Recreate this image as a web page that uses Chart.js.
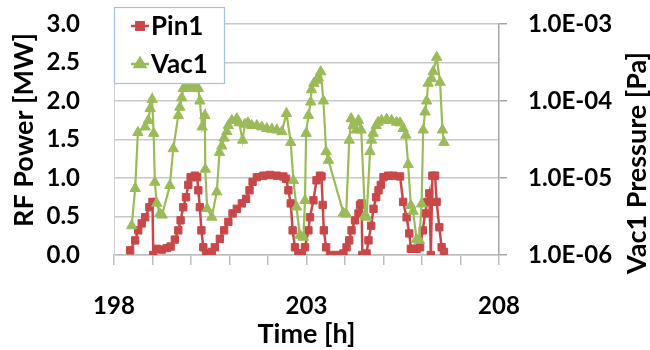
<!DOCTYPE html>
<html><head><meta charset="utf-8">
<script src="https://cdn.jsdelivr.net/npm/chart.js@4.4.0/dist/chart.umd.min.js"></script>
<style>html,body{margin:0;padding:0;background:#fff;}</style>
</head><body>
<canvas id="c" width="650" height="350"></canvas>
<script>
const pinTime = [198.42,198.55,198.63,198.72,198.81,198.92,199.0,199.02,199.11,199.24,
199.37,199.47,199.58,199.67,199.73,199.8,199.87,199.93,199.99,200.1,
200.16,200.19,200.23,200.27,200.32,200.39,200.45,200.54,200.62,200.75,
200.86,200.97,201.08,201.19,201.32,201.43,201.52,201.6,201.71,201.88,
202.05,202.23,202.4,202.47,202.53,202.59,202.64,202.7,202.79,202.88,
202.96,203.05,203.09,203.18,203.26,203.35,203.39,203.42,203.45,203.51,
203.61,203.78,203.96,204.04,204.11,204.17,204.26,204.35,204.39,204.43,
204.45,204.56,204.61,204.68,204.74,204.81,204.87,204.93,205.0,205.12,
205.26,205.43,205.51,205.6,205.67,205.71,205.77,205.86,205.95,206.02,
206.08,206.14,206.19,206.23,206.27,206.34,206.38,206.45,206.51,206.57];
const pinPower = [0.06,0.19,0.32,0.41,0.49,0.62,0.69,0.0,0.08,0.07,
0.09,0.11,0.2,0.32,0.45,0.62,0.75,0.91,1.01,1.03,
1.01,0.84,0.62,0.32,0.1,0.02,0.0,0.04,0.1,0.21,
0.32,0.43,0.54,0.6,0.67,0.73,0.84,0.95,1.01,1.03,
1.04,1.03,1.02,0.99,0.84,0.67,0.32,0.1,0.02,0.02,
0.1,0.32,0.49,0.71,0.97,1.03,1.02,0.65,0.32,0.1,
0.0,0.0,0.02,0.1,0.19,0.32,0.45,0.54,0.65,0.67,
0.0,0.02,0.19,0.38,0.6,0.75,0.84,0.91,1.01,1.03,
1.03,1.02,0.69,0.49,0.28,0.08,0.08,0.08,0.1,0.32,
0.54,0.69,0.8,0.0,1.03,1.03,0.69,0.36,0.1,0.04];
const vacTime = [198.46,198.55,198.62,198.81,198.89,198.94,198.99,199.03,199.06,199.11,
199.19,199.25,199.45,199.54,199.67,199.71,199.76,199.8,199.89,199.97,
200.06,200.15,200.19,200.23,200.29,200.36,200.37,200.42,200.54,200.67,
200.74,200.8,200.86,200.93,200.97,201.06,201.19,201.25,201.34,201.4,
201.48,201.58,201.71,201.84,201.97,202.1,202.23,202.36,202.48,202.59,
202.66,202.74,202.83,202.92,202.96,202.99,203.05,203.11,203.13,203.19,
203.26,203.31,203.37,203.44,203.51,203.57,203.96,204.03,204.11,204.16,
204.21,204.29,204.35,204.42,204.52,204.56,204.65,204.69,204.73,204.81,
204.86,204.95,205.08,205.21,205.34,205.43,205.51,205.58,205.64,205.71,
205.77,205.86,205.93,205.99,206.03,206.08,206.12,206.16,206.25,206.29,
206.38,206.47,206.53,206.57];
const vacPressure = [2.4e-6,7.3e-6,3.9e-5,4.6e-5,5.6e-5,8.0e-5,1.05e-4,3.8e-5,8.8e-6,4.7e-6,
3.45e-6,3.3e-6,8e-6,2.4e-5,6.5e-5,8.3e-5,1.1e-4,1.45e-4,1.55e-4,1.5e-4,
1.45e-4,1.55e-4,1.45e-4,1.0e-4,4.6e-5,6.5e-5,1.3e-5,4.0e-6,3.1e-6,6.6e-6,
2.15e-5,2.6e-5,3.3e-5,4.0e-5,4.8e-5,5.6e-5,5.9e-5,5.2e-5,3.1e-5,5.0e-5,
5.2e-5,4.8e-5,4.8e-5,4.6e-5,4.4e-5,4.3e-5,4.2e-5,4.0e-5,6.9e-5,2.9e-5,
9.3e-6,4.2e-6,1.8e-6,1.7e-6,5.1e-6,3.8e-5,6.5e-5,9.7e-5,1.4e-4,1.7e-4,
1.86e-4,2.0e-4,2.4e-4,1.0e-4,2.2e-5,1.7e-5,3.5e-6,3.4e-6,3.1e-5,5.9e-5,
4.8e-5,4.2e-5,5.6e-5,4.2e-5,3.3e-6,3.1e-6,2.2e-5,3.1e-5,3.8e-5,4.8e-5,
5.3e-5,5.6e-5,5.8e-5,5.6e-5,5.3e-5,5.2e-5,4.4e-5,3.6e-5,1.5e-5,4.4e-6,
3.7e-6,1.6e-6,1.55e-6,4.6e-6,4.2e-5,7.2e-5,1.0e-4,1.7e-4,1.95e-4,2.4e-4,
3.7e-4,1.75e-4,4.2e-5,2.9e-5];
const seriesNames = ['Pin1', 'Vac1'];
const xLabeledTicks = [198, 203, 208];
const rightTicks = [1e-6, 1e-5, 1e-4, 1e-3];
const leftTitle = 'RF Power [MW]';
const rightTitle = 'Vac1 Pressure [Pa]';
const xTitle = 'Time [h]';

const RED = '#C8484A', GREEN = '#9BBB59';
const FONT = 'Lato';

const legendPlugin = {
  id: 'boxLegend',
  afterDraw(chart) {
    const ctx = chart.ctx;
    ctx.save();
    ctx.fillStyle = '#fff';
    ctx.fillRect(114, 7, 110, 76);
    ctx.strokeStyle = '#a9bfe3';
    ctx.lineWidth = 1.2;
    ctx.strokeRect(114.5, 7.5, 110, 76);
    const ys = [26, 64];
    chart.data.datasets.forEach((ds, i) => {
      const y = ys[i];
      ctx.strokeStyle = ds.borderColor;
      ctx.lineWidth = 2.5;
      ctx.beginPath(); ctx.moveTo(131, y); ctx.lineTo(149, y); ctx.stroke();
      ctx.fillStyle = ds.backgroundColor;
      Chart.helpers.drawPoint(ctx, {pointStyle: ds.pointStyle, radius: ds.pointRadius, borderWidth: 1, rotation: 0}, 140, y);
      ctx.fill();
      ctx.fillStyle = '#000';
      ctx.font = 'bold 26px ' + FONT;
      ctx.textBaseline = 'middle';
      ctx.textAlign = 'left';
      ctx.fillText(ds.label, 151, y + 1);
    });
    ctx.restore();
  }
};

const titlePlugin = {
  id: 'sideTitles',
  afterDraw(chart) {
    const ctx = chart.ctx;
    ctx.save();
    ctx.fillStyle = '#000';
    ctx.font = 'bold 27px ' + FONT;
    ctx.textAlign = 'center';
    ctx.textBaseline = 'middle';
    ctx.translate(24, 130); ctx.rotate(-Math.PI / 2);
    ctx.fillText(leftTitle, 0, 0);
    ctx.restore();
    ctx.save();
    ctx.fillStyle = '#000';
    ctx.font = 'bold 27px ' + FONT;
    ctx.textAlign = 'center';
    ctx.textBaseline = 'middle';
    ctx.translate(637, 163); ctx.rotate(-Math.PI / 2);
    ctx.fillText(rightTitle, 0, 0);
    ctx.restore();
  }
};

new Chart(document.getElementById('c'), {
  type: 'scatter',
  data: {
    datasets: [
      {label: seriesNames[0], data: pinTime.map((t, i) => ({x: t, y: pinPower[i]})), yAxisID: 'y',
       borderColor: RED, backgroundColor: RED, pointStyle: 'rect', pointRadius: 5.2, pointBorderWidth: 1,
       borderWidth: 2.5, showLine: true, tension: 0, order: 2},
      {label: seriesNames[1], data: vacTime.map((t, i) => ({x: t, y: vacPressure[i]})), yAxisID: 'y2',
       borderColor: GREEN, backgroundColor: GREEN, pointStyle: 'triangle', pointRadius: 6, pointBorderWidth: 1,
       borderWidth: 2.2, showLine: true, tension: 0, order: 1}
    ]
  },
  options: {
    responsive: false,
    animation: false,
    layout: {padding: {top: 24, left: 0, right: 0, bottom: 0}},
    plugins: {legend: {display: false}, tooltip: {enabled: false}},
    scales: {
      x: {
        type: 'linear', min: 198, max: 208,
        afterFit(s) { s.height = 95; s.paddingLeft = 0; s.paddingRight = 0; },
        ticks: {stepSize: 1, autoSkip: false, maxRotation: 0, padding: 27, color: '#000',
          font: {family: FONT, size: 24, weight: 'bold'},
          callback: v => xLabeledTicks.includes(Math.round(v)) ? String(Math.round(v)) : ''},
        grid: {drawOnChartArea: false, drawTicks: true, tickLength: 10, color: '#bdbdbd', lineWidth: 1.5},
        border: {color: '#bdbdbd', width: 1.5},
        title: {display: true, text: xTitle, color: '#000', font: {family: FONT, size: 27, weight: 'bold', lineHeight: 1}, padding: {top: 0, bottom: 2}}
      },
      y: {
        type: 'linear', position: 'left', min: 0, max: 3,
        afterFit(s) { s.width = 114; s.paddingTop = 0; s.paddingBottom = 0; },
        ticks: {stepSize: 0.5, padding: 34, color: '#000', font: {family: FONT, size: 24, weight: 'bold'},
          callback: v => v.toFixed(1)},
        grid: {drawTicks: false, color: '#c8c8c8', lineWidth: 1.5},
        border: {color: '#d0d0d0', width: 1}
      },
      y2: {
        type: 'logarithmic', position: 'right', min: 1e-6, max: 1e-3,
        afterFit(s) { s.width = 151; s.paddingTop = 0; s.paddingBottom = 0; },
        afterBuildTicks(s) { s.ticks = rightTicks.map(v => ({value: v})); },
        ticks: {padding: 21, color: '#000', font: {family: FONT, size: 24, weight: 'bold'},
          callback: v => '1.0E-' + String(-Math.round(Math.log10(v))).padStart(2, '0')},
        grid: {drawOnChartArea: false, drawTicks: true, tickLength: 8, color: '#a6a6a6', lineWidth: 1.5},
        border: {color: '#a6a6a6', width: 1.5}
      }
    }
  },
  plugins: [legendPlugin, titlePlugin]
});
</script>
</body></html>
